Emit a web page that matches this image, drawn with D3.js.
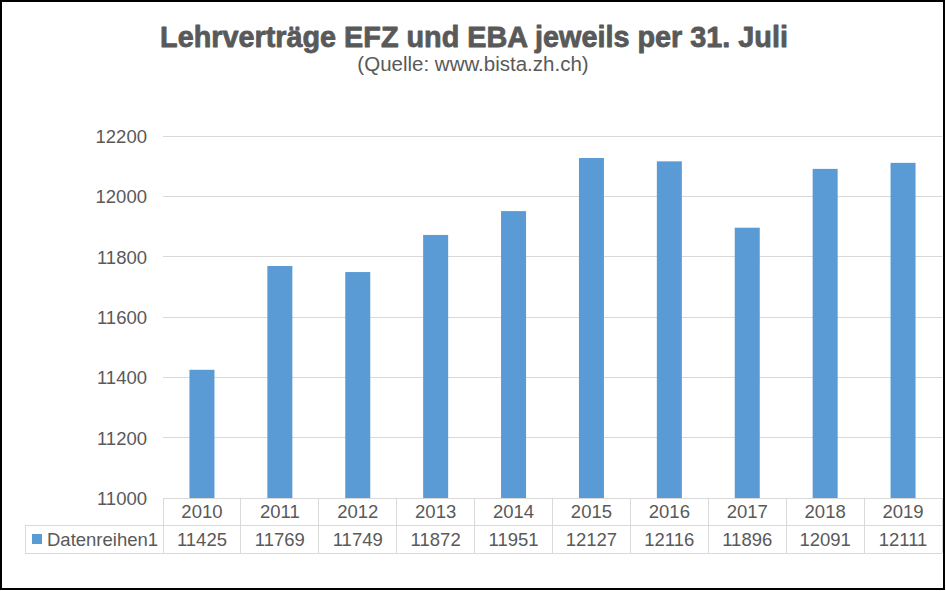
<!DOCTYPE html>
<html><head><meta charset="utf-8">
<script src="https://cdn.jsdelivr.net/npm/d3@7"></script>
<style>html,body{margin:0;padding:0;background:#fff;}svg{display:block;}</style>
</head><body>
<svg id="chart" width="946" height="591"></svg>
<script>
const titleText = "Lehrverträge EFZ und EBA jeweils per 31. Juli";
const subtitleText = "(Quelle: www.bista.zh.ch)";
const seriesName = "Datenreihen1";
const years = ["2010","2011","2012","2013","2014","2015","2016","2017","2018","2019"];
const values = [11425, 11769, 11749, 11872, 11951, 12127, 12116, 11896, 12091, 12111];
const yTicks = [11000, 11200, 11400, 11600, 11800, 12000, 12200];

(function(){
const svg = d3.select("#chart");
const font = "'Liberation Sans', Arial, sans-serif";
const textColor = "#595959";
const gridColor = "#d9d9d9";
const barColor = "#5B9BD5";

const pLeft = 163, pRight = 942, pTop = 136, pBottom = 498;
const row1 = 525, row2 = 553, legendLeft = 25;

svg.append("rect").attr("x",0).attr("y",0).attr("width",946).attr("height",591).attr("fill","#fff");

const x = d3.scaleBand().domain(years).range([pLeft, pRight]).paddingInner(0.679).paddingOuter(0.3395);
const cells = d3.scaleBand().domain(years).range([pLeft, pRight]);
const y = d3.scaleLinear().domain([11000, 12200]).range([pBottom, pTop]);

// gridlines
svg.append("g").selectAll("line").data(yTicks).join("line")
  .attr("x1", pLeft).attr("x2", pRight)
  .attr("y1", d => y(d)).attr("y2", d => y(d))
  .attr("stroke", gridColor).attr("stroke-width", 1).attr("shape-rendering","crispEdges");

// y axis labels
const yAxis = d3.axisLeft(y).tickValues(yTicks).tickSize(0).tickPadding(0).tickFormat(d3.format("d"));
const ya = svg.append("g").attr("transform", `translate(147,0)`).call(yAxis);
ya.select(".domain").remove();
ya.selectAll("text").attr("font-family", font).attr("font-size", "18.5px").attr("fill", textColor).attr("dy","0.35em");

// bars
svg.append("g").selectAll("rect").data(values).join("rect")
  .attr("x", (d,i) => x(years[i]))
  .attr("width", x.bandwidth())
  .attr("y", d => y(d))
  .attr("height", d => y(11000) - y(d))
  .attr("fill", barColor);

// data table
const t = svg.append("g").attr("stroke", gridColor).attr("stroke-width",1).attr("shape-rendering","crispEdges");
const bounds = years.map(yy => cells(yy)).concat([pRight]);
t.selectAll("line.v").data(bounds).join("line")
  .attr("x1", d => d).attr("x2", d => d).attr("y1", pBottom).attr("y2", row2);
t.append("line").attr("x1", legendLeft).attr("x2", legendLeft).attr("y1", row1).attr("y2", row2);
t.append("line").attr("x1", legendLeft).attr("x2", pRight).attr("y1", row1).attr("y2", row1);
t.append("line").attr("x1", legendLeft).attr("x2", pRight).attr("y1", row2).attr("y2", row2);
t.append("line").attr("x1", pLeft).attr("x2", pRight).attr("y1", pBottom).attr("y2", pBottom);

svg.append("g").selectAll("text").data(years).join("text")
  .attr("x", d => cells(d) + cells.bandwidth()/2).attr("y", 518)
  .attr("text-anchor","middle").attr("font-family", font).attr("font-size","18.5px").attr("fill", textColor)
  .text(d => d);
svg.append("g").selectAll("text").data(values).join("text")
  .attr("x", (d,i) => cells(years[i]) + cells.bandwidth()/2).attr("y", 545.5)
  .attr("text-anchor","middle").attr("font-family", font).attr("font-size","18.5px").attr("fill", textColor)
  .text(d => d);

svg.append("rect").attr("x",32).attr("y",534).attr("width",10).attr("height",10).attr("fill",barColor);
svg.append("text").attr("x",47).attr("y",545.5).attr("font-family",font).attr("font-size","18.5px").attr("fill",textColor).text(seriesName);

// titles
svg.append("text").attr("x",474).attr("y",47).attr("text-anchor","middle")
  .attr("font-family",font).attr("font-weight","bold").attr("font-size","28.8px").attr("fill",textColor)
  .attr("stroke",textColor).attr("stroke-width",0.8).attr("stroke-linejoin","round").text(titleText);
svg.append("text").attr("x",473).attr("y",71).attr("text-anchor","middle")
  .attr("font-family",font).attr("font-size","20.5px").attr("fill",textColor).text(subtitleText);

// frame
svg.append("rect").attr("x",1).attr("y",1).attr("width",943).attr("height",588)
  .attr("fill","none").attr("stroke","#000").attr("stroke-width",2);
})();
</script>
</body></html>
